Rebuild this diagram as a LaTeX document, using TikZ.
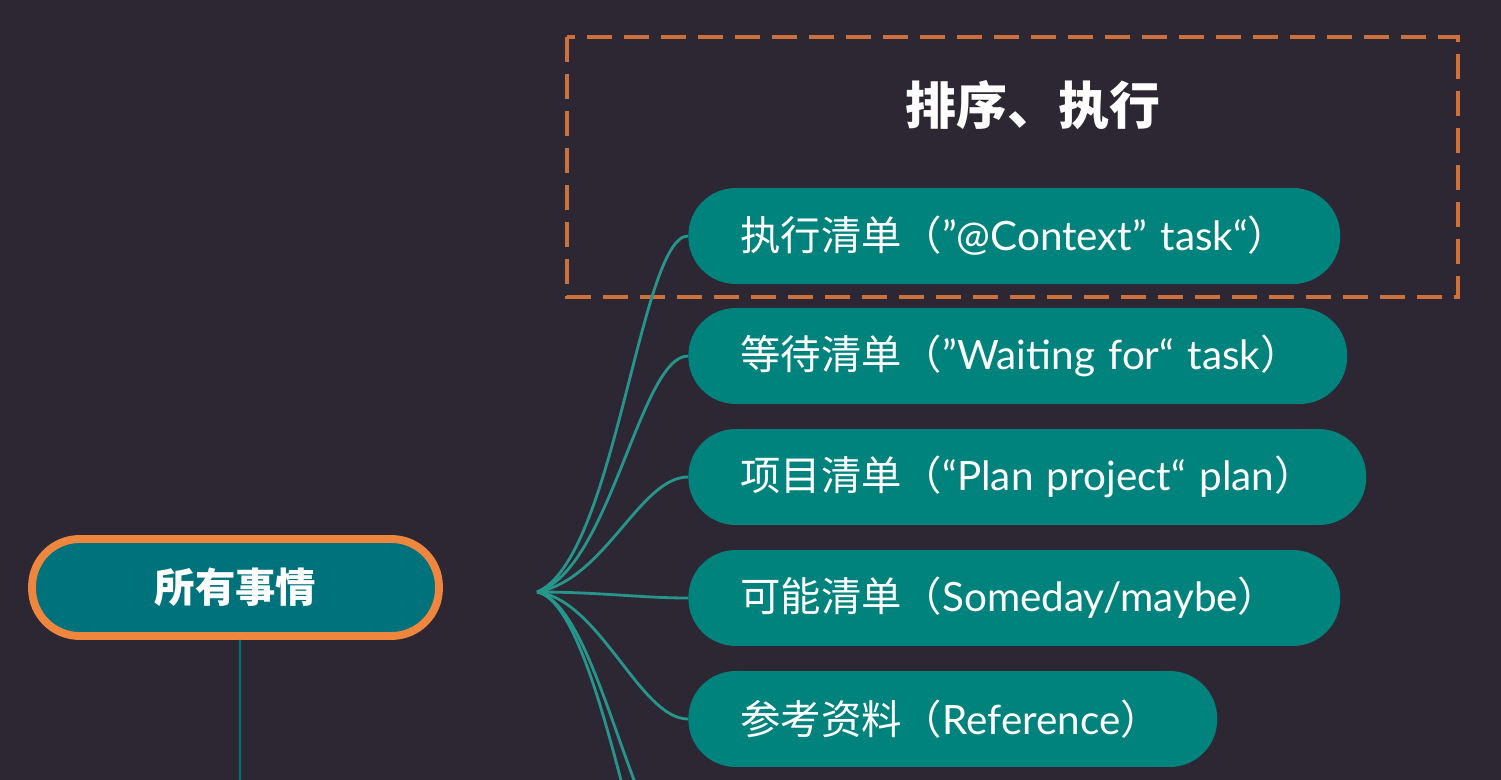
\documentclass[tikz,border=0pt]{standalone}
\usepackage{fontspec}
\setmainfont{Lato}
\newfontfamily\cjk{Noto Sans CJK SC}
\definecolor{bgdark}{RGB}{45,39,51}
\definecolor{leafteal}{RGB}{0,130,125}
\definecolor{rootteal}{RGB}{0,114,124}
\definecolor{rootorange}{RGB}{238,134,62}
\definecolor{boxorange}{RGB}{204,112,60}
\definecolor{linkteal}{RGB}{38,150,140}
\begin{document}
\begin{tikzpicture}[x = 0.02cm, y = -0.02cm,
    leaf/.style = {fill = leafteal, text = white, anchor = west, rounded corners = 0.95cm,
        minimum height = 1.92cm, inner xsep = 1.04cm, inner ysep = 0pt, align = left,
        font = \fontsize{23pt}{27pt}\selectfont},
    link/.style = {linkteal, line width = 1.6pt}]

    \fill[bgdark] (0, 0) rectangle (1501, 780);
    \useasboundingbox (0, 0) rectangle (1501, 780);
    \clip (0, 0) rectangle (1501, 780);

    % dashed frame and title
    \draw[boxorange, line width = 2.2pt, dash pattern = on 0.5cm off 0.24cm] (567, 37) rectangle (1458, 297);
    \node[white, font = \fontsize{29pt}{34pt}\selectfont\cjk\bfseries] (title) at (1033, 105) {排序、执行};

    % root
    \node[draw = rootorange, line width = 4.5pt, fill = rootteal, text = white, rounded corners = 0.95cm,
        minimum width = 8.14cm, minimum height = 1.94cm, font = \fontsize{23pt}{27pt}\selectfont\cjk\bfseries] (root) at (235.5, 587.5) {所有事情};
    \coordinate (rootdown) at (240, 800);
    \draw[rootteal, line width = 1.2pt] ([xshift = 0.09cm]root.south) -- (rootdown);

    % lists
    \node[leaf, minimum width = 13.04cm, text width = 10.96cm] (exec) at (688, 236) {\mbox{{\cjk 执行清单（}”@Context” task“{\cjk ）}}};
    \node[leaf, minimum width = 13.18cm, text width = 11.10cm] (wait) at (688, 356) {\mbox{{\cjk 等待清单（}”Waiting for“ task{\cjk ）}}};
    \node[leaf, minimum width = 13.56cm, text width = 11.48cm] (proj) at (688, 477) {\mbox{{\cjk 项目清单（}“Plan project“ plan{\cjk ）}}};
    \node[leaf, minimum width = 13.04cm, text width = 10.96cm] (maybe) at (688, 598) {\mbox{{\cjk 可能清单（}Someday/maybe{\cjk ）}}};
    \node[leaf, minimum width = 10.58cm, text width = 8.50cm] (refs) at (688, 719) {\mbox{{\cjk 参考资料（}Reference{\cjk ）}}};

    % links
    \coordinate (hub) at (537, 592);
    \coordinate (below1) at (688, 860);
    \coordinate (below2) at (688, 980);
    \draw[link] (hub) .. controls (615, 560) and (640, 236) .. (exec.west);
    \draw[link] (hub) .. controls (610, 570) and (640, 356) .. (wait.west);
    \draw[link] (hub) .. controls (605, 580) and (640, 477) .. (proj.west);
    \draw[link] (hub) .. controls (600, 592) and (640, 598) .. (maybe.west);
    \draw[link] (hub) .. controls (600, 600) and (640, 719) .. (refs.west);
    \draw[link] (hub) .. controls (600, 605) and (635, 860) .. (below1);
    \draw[link] (hub) .. controls (605, 605) and (650, 980) .. (below2);

\end{tikzpicture}
\end{document}
